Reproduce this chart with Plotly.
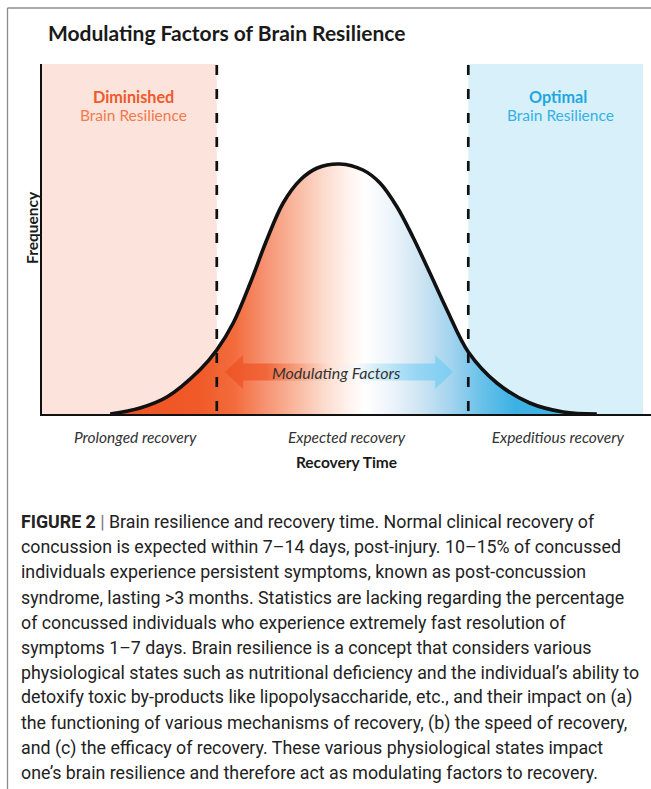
import plotly.graph_objects as go

# ---------------- data ----------------
recovery_time = [11.2, 16.1, 20.5, 25.9, 28.7, 31.4, 34.2, 36.9, 39.6, 42.4, 45.2, 48.9,
                 52.7, 55.5, 58.3, 60.9, 63.7, 66.5, 70.0, 74.7, 80.1, 85.6, 91.1]
frequency = [0, 2.4, 6.8, 17.6, 25.6, 36.4, 52.4, 69.6, 84.4, 93.6, 98.4, 100,
             97.6, 92.4, 82.8, 70.8, 56.4, 41.6, 24.8, 12.4, 4.4, 0.8, 0]

diminished_threshold = 28.7
optimal_threshold = 70.0
optimal_region_end = 98.7

zone_labels = ["Prolonged recovery", "Expected recovery", "Expeditious recovery"]
zone_centers = [15.3, 50.0, 84.7]

caption_lines = [
    "<b>FIGURE 2</b> <span style='color:#777'>|</span> Brain resilience and recovery time. Normal clinical recovery of",
    "concussion is expected within 7–14 days, post-injury. 10–15% of concussed",
    "individuals experience persistent symptoms, known as post-concussion",
    "syndrome, lasting >3 months. Statistics are lacking regarding the percentage",
    "of concussed individuals who experience extremely fast resolution of",
    "symptoms 1–7 days. Brain resilience is a concept that considers various",
    "physiological states such as nutritional deficiency and the individual’s ability to",
    "detoxify toxic by-products like lipopolysaccharide, etc., and their impact on (a)",
    "the functioning of various mechanisms of recovery, (b) the speed of recovery,",
    "and (c) the efficacy of recovery. These various physiological states impact",
    "one’s brain resilience and therefore act as modulating factors to recovery.",
]

# ---------------- layout constants ----------------
W, H = 651, 789
ML, MT, MB = 42, 64, 375
PLOT_W = W - ML
PLOT_H = H - MT - MB
Y_MAX = 140
X_MAX = 100
FONT = "Lato"


def px_to_paper_x(px):
    return (px - ML) / PLOT_W


def px_to_paper_y(py):
    return (MT + PLOT_H - py) / PLOT_H


curve_scale = [
    [0.0, "#ee5223"], [0.184, "#f05a28"], [0.257, "#f36c3d"], [0.318, "#f69272"],
    [0.38, "#f9b89e"], [0.441, "#fcdccf"], [0.493, "#fff4ef"], [0.523, "#ffffff"],
    [0.575, "#eef5fb"], [0.637, "#cfe5f3"], [0.698, "#a5d4ef"], [0.76, "#6cc2ea"],
    [0.832, "#3db1e4"], [1.0, "#45b4e6"],
]
arrow_scale = [
    [0.0, "#ee5426"], [0.18, "#f1673a"], [0.33, "#f7a585"], [0.47, "#fde3d8"],
    [0.58, "#f6fafd"], [0.69, "#c9e9f8"], [0.84, "#97d6f4"], [1.0, "#7ccdf2"],
]

fig = go.Figure()

# bell curve with gradient fill
fig.add_trace(go.Scatter(
    x=recovery_time, y=frequency, mode="lines",
    line=dict(color="#111111", width=3.6, shape="spline", smoothing=1.0),
    fill="tozeroy",
    fillgradient=dict(type="horizontal", colorscale=curve_scale,
                      start=min(recovery_time), stop=max(recovery_time)),
    hoverinfo="skip", showlegend=False,
))

# Modulating factors double arrow
ax0, ax1 = 30.05, 67.5
head = 2.96
yc, hh, sh = 16.8, 6.8, 3.4
arrow_x = [ax0, ax0 + head, ax0 + head, ax1 - head, ax1 - head, ax1,
           ax1 - head, ax1 - head, ax0 + head, ax0 + head, ax0]
arrow_y = [yc, yc + hh, yc + sh, yc + sh, yc + hh, yc,
           yc - hh, yc - sh, yc - sh, yc - hh, yc]
fig.add_trace(go.Scatter(
    x=arrow_x, y=arrow_y, mode="lines", line=dict(width=0, color="rgba(0,0,0,0)"),
    fill="toself",
    fillgradient=dict(type="horizontal", colorscale=arrow_scale, start=ax0, stop=ax1),
    hoverinfo="skip", showlegend=False,
))

shapes = [
    dict(type="rect", xref="x", yref="y", x0=0, x1=diminished_threshold, y0=0, y1=Y_MAX,
         fillcolor="#fce4dc", line=dict(width=0), layer="below"),
    dict(type="rect", xref="x", yref="y", x0=optimal_threshold, x1=optimal_region_end, y0=0, y1=Y_MAX,
         fillcolor="#d8f0fa", line=dict(width=0), layer="below"),
    dict(type="line", xref="x", yref="y", x0=diminished_threshold, x1=diminished_threshold,
         y0=Y_MAX - 0.4, y1=0, line=dict(color="#111111", width=2.7, dash="10px,14px"), layer="above"),
    dict(type="line", xref="x", yref="y", x0=optimal_threshold, x1=optimal_threshold,
         y0=Y_MAX - 0.4, y1=0, line=dict(color="#111111", width=2.7, dash="10px,14px"), layer="above"),
    # page frame
    dict(type="line", xref="paper", yref="paper", x0=px_to_paper_x(7.5), x1=px_to_paper_x(7.5),
         y0=px_to_paper_y(8), y1=px_to_paper_y(789), line=dict(color="#8c8c8c", width=1.3)),
    dict(type="line", xref="paper", yref="paper", x0=px_to_paper_x(7.5), x1=px_to_paper_x(651),
         y0=px_to_paper_y(8), y1=px_to_paper_y(8), line=dict(color="#8c8c8c", width=1.3)),
]


def label(px, py, text, size, color, family=FONT, angle=0):
    return dict(x=px_to_paper_x(px), y=px_to_paper_y(py), xref="paper", yref="paper",
                xanchor="center", yanchor="middle", text=text, showarrow=False, textangle=angle,
                font=dict(family=family, size=size, color=color))


annotations = [
    label(133, 96, "<b>Diminished</b>", 16.2, "#ee5a2a"),
    label(133, 115, "Brain Resilience", 15.5, "#f2794c"),
    label(558, 96, "<b>Optimal</b>", 16.2, "#1ea7e0"),
    label(560, 115, "Brain Resilience", 15.5, "#36b0e5"),
    label(32, 228, "<b>Frequency</b>", 15.5, "#1a1a1a", angle=-90),
    dict(x=48.4, y=yc, xref="x", yref="y", xanchor="center", yanchor="middle",
         text="<i>Modulating Factors</i>", showarrow=False,
         font=dict(family=FONT, size=16, color="#333333")),
]

y0 = 521.7
for i, line in enumerate(caption_lines):
    annotations.append(dict(
        x=px_to_paper_x(19), y=px_to_paper_y(y0 + i * 25.1), xref="paper", yref="paper",
        xanchor="left", yanchor="middle", showarrow=False, align="left",
        text=line, font=dict(family="Roboto", size=17.8, color="#222222"),
    ))

fig.update_layout(
    width=W, height=H,
    margin=dict(l=ML, r=0, t=MT, b=MB, pad=0),
    paper_bgcolor="white", plot_bgcolor="white",
    title=dict(text="<b>Modulating Factors of Brain Resilience</b>", xref="container", yref="container",
               x=48 / W, xanchor="left", y=1 - 34 / H, yanchor="middle",
               font=dict(family=FONT, size=21, color="#1a1a1a")),
    xaxis=dict(range=[0, X_MAX], showgrid=False, zeroline=False, showline=True, linecolor="#111111",
               linewidth=2, ticks="", tickvals=zone_centers,
               ticktext=[f"<i>{t}</i>" for t in zone_labels],
               tickfont=dict(family=FONT, size=15.5, color="#333333"),
               ticklabelstandoff=8,
               title=dict(text="<b>Recovery Time</b>", font=dict(family=FONT, size=15.5, color="#1a1a1a"),
                          standoff=13),
               fixedrange=True),
    yaxis=dict(range=[0, Y_MAX], showgrid=False, zeroline=False, showline=True, linecolor="#111111",
               linewidth=2, showticklabels=False, ticks="", fixedrange=True),
    shapes=shapes, annotations=annotations,
    showlegend=False,
)

fig.write_html("out.html", config={"displayModeBar": False},
               post_script="document.body.style.margin='0';document.body.style.overflow='hidden';")
